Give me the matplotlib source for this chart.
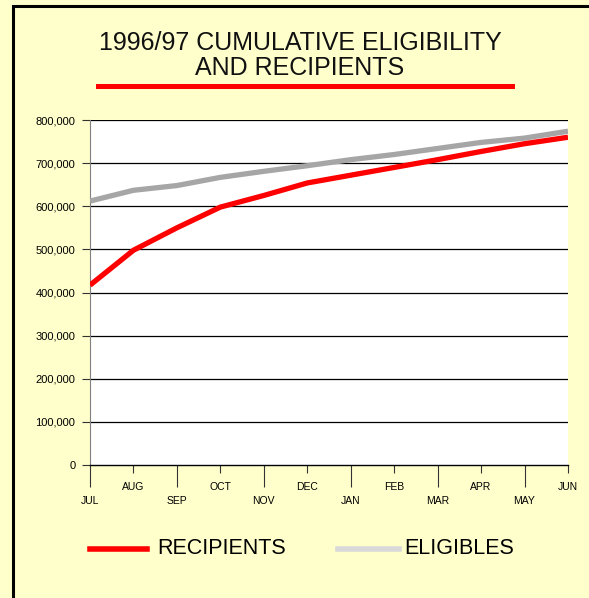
import matplotlib.pyplot as plt
from matplotlib.patches import Rectangle
from matplotlib.ticker import FuncFormatter

months = ['JUL', 'AUG', 'SEP', 'OCT', 'NOV', 'DEC', 'JAN', 'FEB', 'MAR', 'APR', 'MAY', 'JUN']
recipients = [417000, 498000, 550000, 598000, 625000, 654000, 672000, 690000, 708000, 727000, 745000, 760000]
eligibles = [612000, 637000, 648000, 667000, 681000, 694000, 708000, 720000, 734000, 748000, 758000, 774000]

bg = '#FFFFCC'
fig = plt.figure(figsize=(5.89, 5.98), dpi=100)
fig.patch.set_facecolor(bg)
plt.rcParams['font.family'] = ['Liberation Sans', 'DejaVu Sans']

# black frame (only left/top visible in the original)
fig.patches.append(Rectangle((12.5/589, -0.2), 1.2, 1.2 - 5.5/598,
                             transform=fig.transFigure, fill=False,
                             edgecolor='black', lw=2.2))

ax = fig.add_axes([90/589, 133/598, 478/589, 345/598])
ax.set_facecolor('white')

x = list(range(len(months)))
ax.plot(x, eligibles, color='#A6A6A6', lw=3.8, solid_capstyle='butt', zorder=3)
ax.plot(x, recipients, color='#FF0000', lw=3.8, solid_capstyle='butt', zorder=4)

ax.set_xlim(0, 11)
ax.set_ylim(0, 800000)
ax.set_yticks(range(0, 800001, 100000))
ax.yaxis.set_major_formatter(FuncFormatter(lambda v, p: f'{int(v):,}'))
for v in range(100000, 800001, 100000):
    ax.axhline(v, color='black', lw=0.9, zorder=1)

ax.set_xticks(x[0::2], months[0::2])
ax.set_xticks(x[1::2], months[1::2], minor=True)
ax.tick_params(axis='x', which='major', length=16, width=0.8, pad=6.5, labelsize=7.5, color='#333333')
ax.tick_params(axis='x', which='minor', length=5.8, width=0.8, pad=6.5, labelsize=7.5, color='#333333')
ax.tick_params(axis='y', length=6, width=0.8, pad=4.5, labelsize=8, color='#333333')

for s in ['top', 'right']:
    ax.spines[s].set_visible(False)
ax.spines['left'].set_color('#808080')
ax.spines['bottom'].set_color('black')
ax.spines['bottom'].set_linewidth(1.0)

fig.text(300/589, 1 - 42.5/598, '1996/97 CUMULATIVE ELIGIBILITY',
         ha='center', va='center', fontsize=18, color='#111111')
fig.text(300/589, 1 - 68/598, 'AND RECIPIENTS',
         ha='center', va='center', fontsize=18, color='#111111')
fig.add_artist(plt.Line2D([98/589, 512/589], [1 - 85.5/598, 1 - 85.5/598],
                          color='#FF0000', lw=3.6, transform=fig.transFigure))

# legend
ly = 1 - 549/598
fig.add_artist(plt.Line2D([90/589, 147/589], [ly, ly], color='#FF0000', lw=4, transform=fig.transFigure))
fig.text(157/589, ly, 'RECIPIENTS', va='center', ha='left', fontsize=15.5)
fig.add_artist(plt.Line2D([338/589, 399/589], [ly, ly], color='#D9D9D9', lw=4, transform=fig.transFigure))
fig.text(404/589, ly, 'ELIGIBLES', va='center', ha='left', fontsize=15.5)

fig.savefig('out.png', dpi=100, facecolor=bg)
